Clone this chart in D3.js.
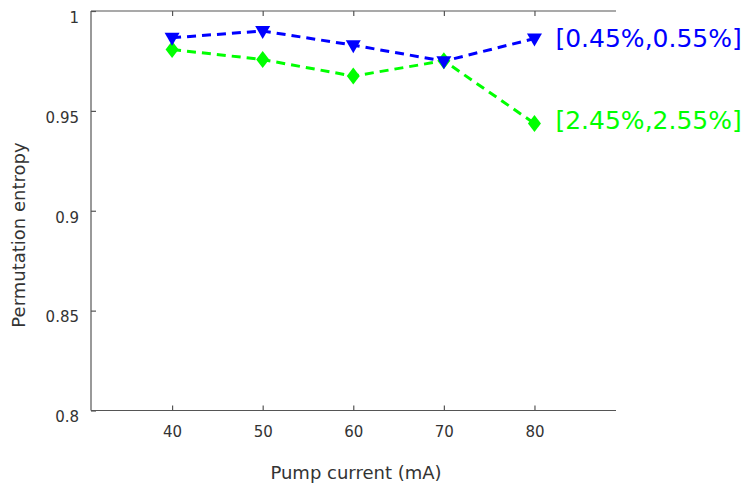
<!DOCTYPE html>
<html><head><meta charset="utf-8">
<script src="https://cdn.jsdelivr.net/npm/d3@7"></script>
<style>body{margin:0;background:#fff}text{font-family:"DejaVu Sans",Verdana,sans-serif}</style>
</head><body>
<svg id="c" width="748" height="485"></svg>
<script>
const current = [40, 50, 60, 70, 80];
const blueValues = [0.9866, 0.9900, 0.9829, 0.9749, 0.9862];
const greenValues = [0.9807, 0.9757, 0.9674, 0.9751, 0.9437];
const seriesLabels = ["[0.45%,0.55%]", "[2.45%,2.55%]"];
const xTicks = [40, 50, 60, 70, 80];
const yTicks = [0.8, 0.85, 0.9, 0.95, 1];

const svg = d3.select("#c");
const L = 91, R = 616, T = 11, B = 410.5;
const x = d3.scaleLinear().domain([31.05, 89]).range([L, R]);
const y = d3.scaleLinear().domain([0.8, 1]).range([B, T]);
const axisColor = "#555";

const gb = svg.append("g").attr("transform", `translate(0,${B})`)
  .call(d3.axisBottom(x).tickValues(xTicks).tickSize(-5).tickPadding(16).tickFormat(d3.format("d")));
const gt = svg.append("g").attr("transform", `translate(0,${T})`)
  .call(d3.axisTop(x).tickValues(xTicks).tickSize(-5).tickFormat(""));
const gl = svg.append("g").attr("transform", `translate(${L},0)`)
  .call(d3.axisLeft(y).tickValues(yTicks).tickSize(-5).tickPadding(12).tickFormat(d => d3.format("")(d)));
[gb, gt, gl].forEach(g => {
  g.select(".domain").attr("stroke", axisColor).attr("stroke-width", 1.2);
  g.selectAll(".tick line").attr("stroke", axisColor).attr("stroke-width", 1.2);
  g.selectAll("text").attr("fill", "#333").style("font-size", "15px");
});
gl.selectAll(".tick text").attr("dy", "0.75em");
gb.selectAll(".domain").attr("d", `M${L},0H${R}`);
gt.selectAll(".domain").attr("d", `M${L},0H${R}`);
gl.selectAll(".domain").attr("d", `M0,${B}V${T}`);

svg.append("text").attr("x", 356).attr("y", 479).attr("text-anchor", "middle")
  .style("font-size", "18px").attr("fill", "#333").text("Pump current (mA)");
svg.append("text").attr("transform", `translate(25,235) rotate(-90)`).attr("text-anchor", "middle")
  .style("font-size", "18px").attr("fill", "#333").text("Permutation entropy");

const line = d3.line().x((d, i) => x(current[i])).y(d => y(d));

function drawSeries(vals, color, symbol) {
  svg.append("path").datum(vals).attr("d", line).attr("fill", "none")
    .attr("stroke", color).attr("stroke-width", 3).attr("stroke-dasharray", "9,6");
  svg.selectAll(null).data(vals).enter().append("path")
    .attr("transform", (d, i) => `translate(${x(current[i])},${y(d)})`)
    .attr("d", symbol).attr("fill", color);
}
const diamond = "M0,-8.5L6.5,0L0,8.5L-6.5,0Z";
const triDown = "M-7.5,-5L7.5,-5L0,8Z";
drawSeries(greenValues, "#00ff00", diamond);
drawSeries(blueValues, "#0000ff", triDown);

svg.append("text").attr("x", x(80) + 21).attr("y", y(blueValues[4]) + 8)
  .style("font-size", "25px").attr("fill", "#0000ff").text(seriesLabels[0]);
svg.append("text").attr("x", x(80) + 21).attr("y", y(greenValues[4]) + 6)
  .style("font-size", "25px").attr("fill", "#00ff00").text(seriesLabels[1]);
</script>
</body></html>
